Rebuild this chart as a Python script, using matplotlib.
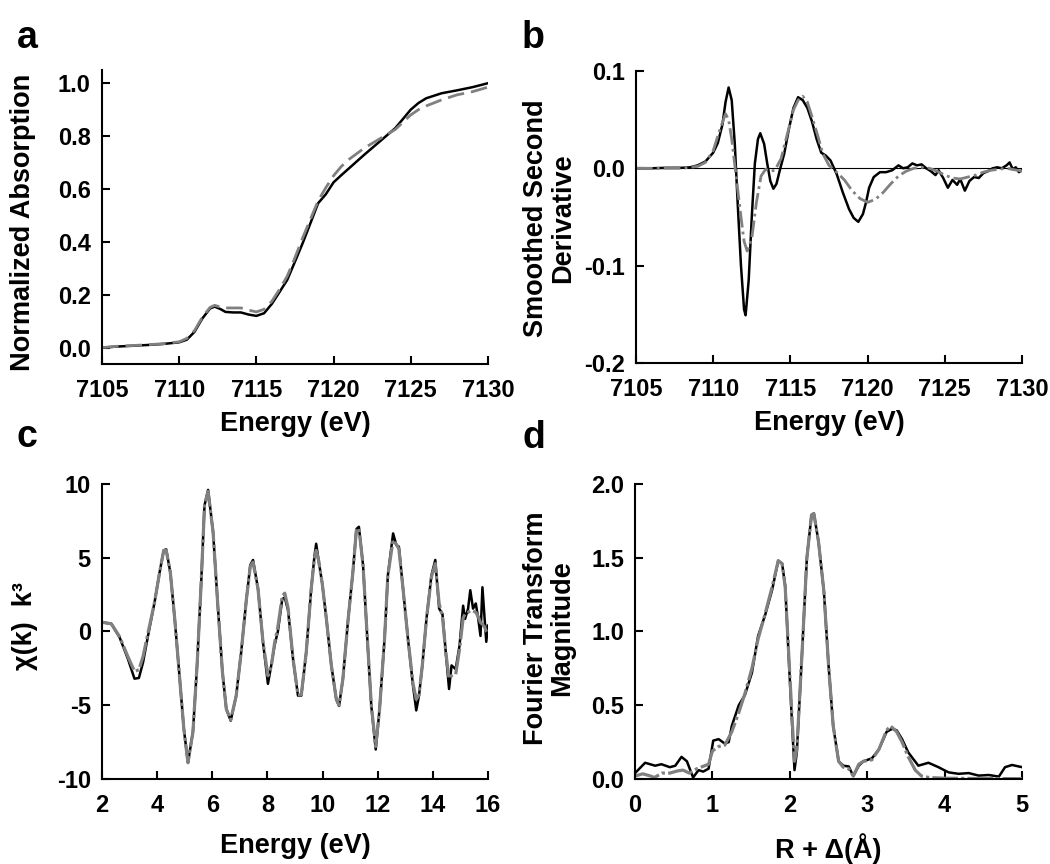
import matplotlib.pyplot as plt
from matplotlib.ticker import FormatStrFormatter

plt.rcParams['font.family'] = ['Liberation Sans', 'DejaVu Sans']
plt.rcParams['font.weight'] = 'bold'
plt.rcParams['axes.unicode_minus'] = False

# ---- panel a: normalized XANES ----
energy_a = [7105, 7106, 7107, 7108, 7109, 7110, 7110.5, 7111, 7111.5, 7112, 7112.3,
            7112.7, 7113, 7113.5, 7114, 7114.5, 7115, 7115.5, 7116, 7116.5, 7117,
            7117.5, 7118, 7118.5, 7119, 7119.5, 7120, 7120.5, 7121, 7122, 7123,
            7124, 7125, 7125.5, 7126, 7127, 7128, 7129, 7130]
absorb_data = [0.0, 0.004, 0.007, 0.01, 0.014, 0.02, 0.03, 0.06, 0.11, 0.148, 0.155,
               0.145, 0.135, 0.133, 0.133, 0.125, 0.12, 0.13, 0.165, 0.21, 0.256,
               0.325, 0.395, 0.47, 0.546, 0.58, 0.625, 0.652, 0.678, 0.73, 0.78,
               0.83, 0.9, 0.925, 0.943, 0.962, 0.973, 0.985, 1.0]
absorb_fit = [0.0, 0.005, 0.008, 0.011, 0.015, 0.022, 0.035, 0.065, 0.115, 0.152, 0.16,
              0.153, 0.15, 0.15, 0.15, 0.142, 0.135, 0.145, 0.175, 0.22, 0.27,
              0.34, 0.415, 0.485, 0.555, 0.605, 0.65, 0.685, 0.712, 0.755, 0.79,
              0.825, 0.88, 0.9, 0.914, 0.937, 0.956, 0.968, 0.985]

# ---- panel b: smoothed second derivative ----
energy_b = [7105, 7106, 7107, 7108, 7108.5, 7109, 7109.5, 7110, 7110.3, 7110.6, 7110.8,
            7111.0, 7111.2, 7111.4, 7111.6, 7111.8, 7112.0, 7112.1, 7112.3, 7112.5,
            7112.7, 7112.9, 7113.05, 7113.3, 7113.5, 7113.7, 7113.9, 7114.1, 7114.3,
            7114.6, 7114.9, 7115.2, 7115.5, 7115.8, 7116.1, 7116.4, 7116.7, 7117.0,
            7117.3, 7117.6, 7118.0, 7118.4, 7118.8, 7119.1, 7119.4, 7119.7, 7119.9,
            7120.1, 7120.4, 7120.8, 7121.2, 7121.6, 7122.0, 7122.3, 7122.6, 7122.9,
            7123.2, 7123.5, 7123.8, 7124.1, 7124.4, 7124.6, 7124.9, 7125.2, 7125.5,
            7125.8, 7126.0, 7126.3, 7126.6, 7126.9, 7127.2, 7127.5, 7127.8, 7128.1,
            7128.4, 7128.7, 7129.0, 7129.2, 7129.4, 7129.6, 7129.8, 7130.0]
deriv_data = [0.0, 0.0, 0.0005, 0.0005, 0.001, 0.003, 0.007, 0.016, 0.026, 0.045, 0.068,
              0.083, 0.07, 0.025, -0.04, -0.1, -0.145, -0.151, -0.115, -0.05,
              0.005, 0.03, 0.036, 0.025, 0.005, -0.013, -0.021, -0.016, -0.003,
              0.015, 0.04, 0.062, 0.073, 0.07, 0.062, 0.048, 0.03, 0.016,
              0.013, 0.008, -0.006, -0.025, -0.042, -0.051, -0.055, -0.047, -0.035,
              -0.02, -0.009, -0.004, -0.004, -0.002, 0.003, 0.0, 0.001, 0.005,
              0.003, 0.004, 0.0, -0.003, -0.007, -0.002, -0.01, -0.02, -0.012,
              -0.017, -0.011, -0.023, -0.013, -0.009, -0.01, -0.005, -0.003, 0.0,
              0.001, 0.0, 0.003, 0.006, -0.001, 0.001, -0.004, -0.002]

energy_b_fit = [7105, 7107, 7108, 7109, 7109.5, 7110, 7110.4, 7110.8, 7111.0, 7111.2,
                7111.5, 7111.8, 7112.0, 7112.2, 7112.5, 7112.8, 7113.1, 7113.4, 7113.7,
                7114.0, 7114.4, 7114.8, 7115.2, 7115.5, 7115.8, 7116.1, 7116.4, 7116.8,
                7117.1, 7117.5, 7118.0, 7118.5, 7119.0, 7119.5, 7120.0, 7120.5, 7121.0,
                7121.5, 7122.0, 7122.5, 7123.0, 7123.5, 7124.0, 7124.5, 7125.0, 7125.5,
                7126.0, 7126.5, 7127.0, 7127.5, 7128.0, 7129.0, 7130.0]
deriv_fit = [0.0, 0.0, 0.0, 0.002, 0.006, 0.018, 0.038, 0.056, 0.05, 0.03,
             -0.01, -0.05, -0.075, -0.085, -0.072, -0.035, -0.008, -0.001, -0.003,
             -0.002, 0.01, 0.035, 0.06, 0.07, 0.074, 0.068, 0.053, 0.032,
             0.015, 0.003, -0.004, -0.012, -0.023, -0.031, -0.035, -0.032, -0.025,
             -0.016, -0.008, -0.003, 0.0, 0.001, 0.0, -0.003, -0.007, -0.01,
             -0.011, -0.009, -0.007, -0.004, -0.002, 0.0, -0.003]

# ---- panel c: k^3-weighted EXAFS ----
k_c = [2.0, 2.34, 2.64, 2.94, 3.18, 3.34, 3.49, 3.67, 3.91, 4.09, 4.24, 4.33, 4.48,
       4.64, 4.82, 4.97, 5.12, 5.3, 5.45, 5.6, 5.72, 5.85, 6.03, 6.21, 6.37, 6.51,
       6.67, 6.87, 7.05, 7.24, 7.38, 7.48, 7.66, 7.84, 8.02, 8.14, 8.26, 8.38, 8.54,
       8.63, 8.75, 8.93, 9.11, 9.23, 9.41, 9.59, 9.71, 9.77, 9.86, 9.99, 10.14, 10.32,
       10.5, 10.6, 10.74, 10.92, 11.1, 11.23, 11.32, 11.47, 11.61, 11.77, 11.93, 12.07,
       12.25, 12.37, 12.56, 12.68, 12.77, 12.92, 13.1, 13.28, 13.4, 13.5, 13.62, 13.77,
       13.95, 14.09, 14.23, 14.35, 14.47, 14.59, 14.68, 14.83, 14.97, 15.1, 15.17,
       15.28, 15.36, 15.46, 15.56, 15.65, 15.73, 15.8, 15.88, 15.94, 16.0]
chi_data = [0.63, 0.52, -0.4, -1.85, -3.2, -3.15, -2.1, -0.3, 2.0, 4.0, 5.5, 5.57, 4.0,
            0.85, -3.2, -6.6, -8.9, -6.8, -2.3, 3.35, 8.55, 9.6, 6.75, 1.55, -2.75, -5.25,
            -6.05, -4.35, -1.4, 2.2, 4.5, 4.85, 2.9, -0.7, -3.55, -2.3, -0.95, 0.0, 2.2,
            2.3, 1.45, -1.85, -4.35, -4.35, -1.4, 2.9, 5.15, 5.95, 4.8, 3.25, 0.85, -2.3,
            -4.6, -5.05, -3.2, 0.65, 4.0, 6.95, 7.1, 4.5, 0.0, -5.05, -8.0, -5.25,
            -0.5, 3.8, 6.65, 5.85, 5.75, 2.9, -0.5, -3.65, -5.35, -4.35, -2.3, 0.85,
            3.8, 4.85, 1.55, 1.2, -1.4, -3.9, -2.3, -2.55, -0.95, 1.75, 0.85,
            1.55, 2.8, 1.55, 1.9, 0.85, -0.3, 3.0, 0.85, -0.7, 0.4]
chi_fit = [0.63, 0.52, -0.35, -1.7, -2.7, -2.6, -1.7, -0.1, 2.0, 4.0, 5.5, 5.5, 4.0,
           0.85, -3.2, -6.6, -8.9, -6.8, -2.3, 3.35, 8.55, 9.5, 6.75, 1.55, -2.75, -5.25,
           -6.0, -4.35, -1.4, 2.2, 4.4, 4.7, 2.9, -0.7, -3.0, -2.4, -0.8, 0.3, 2.4,
           2.6, 1.6, -1.85, -4.3, -4.3, -1.4, 2.9, 5.0, 5.5, 4.8, 3.25, 0.85, -2.3,
           -4.6, -5.0, -3.2, 0.65, 4.0, 6.9, 7.0, 4.5, 0.0, -5.0, -7.8, -5.25,
           -0.5, 3.8, 6.2, 5.9, 5.6, 2.9, -0.5, -3.5, -4.6, -4.3, -2.3, 0.85,
           3.7, 4.6, 1.9, 1.0, -1.4, -3.2, -3.0, -2.9, -1.2, 0.9, 1.2,
           1.3, 1.4, 1.4, 1.3, 1.0, 0.6, 0.5, 0.3, 0.0, -0.2]

# ---- panel d: Fourier transform ----
r_data = [0.01, 0.13, 0.26, 0.34, 0.45, 0.52, 0.6, 0.67, 0.75, 0.82, 0.88, 0.95,
          1.01, 1.08, 1.16, 1.21, 1.25, 1.34, 1.42, 1.51, 1.59, 1.68, 1.77, 1.85,
          1.9, 1.94, 1.98, 2.03, 2.06, 2.09, 2.16, 2.22, 2.28, 2.31, 2.37, 2.44,
          2.5, 2.56, 2.63, 2.69, 2.76, 2.82, 2.89, 2.95, 3.06, 3.15, 3.25, 3.32,
          3.38, 3.45, 3.53, 3.66, 3.79, 3.92, 4.05, 4.18, 4.31, 4.44, 4.57, 4.7,
          4.78, 4.87, 5.0]
ft_data = [0.045, 0.11, 0.09, 0.1, 0.08, 0.09, 0.15, 0.12, 0.01, 0.06, 0.05, 0.07,
           0.26, 0.27, 0.24, 0.25, 0.36, 0.5, 0.57, 0.72, 0.97, 1.11, 1.28, 1.48,
           1.46, 1.31, 0.88, 0.36, 0.06, 0.18, 0.88, 1.5, 1.79, 1.8, 1.61, 1.27,
           0.77, 0.36, 0.12, 0.09, 0.085, 0.02, 0.09, 0.12, 0.14, 0.2, 0.32, 0.34,
           0.33, 0.27, 0.18, 0.09, 0.11, 0.08, 0.045, 0.035, 0.04, 0.023, 0.027, 0.016,
           0.08, 0.095, 0.08]
r_fit = [0.0, 0.1, 0.2, 0.25, 0.35, 0.45, 0.55, 0.62, 0.7, 0.8, 0.9, 0.95, 1.0, 1.08,
         1.16, 1.25, 1.34, 1.42, 1.51, 1.59, 1.68, 1.77, 1.85, 1.9, 1.94, 1.98, 2.03,
         2.06, 2.09, 2.16, 2.22, 2.28, 2.31, 2.37, 2.44, 2.5, 2.56, 2.63, 2.69, 2.76,
         2.82, 2.89, 2.95, 3.06, 3.15, 3.25, 3.3, 3.38, 3.45, 3.53, 3.62, 3.7, 3.8,
         4.0, 4.5, 5.0]
ft_fit = [0.02, 0.035, 0.02, 0.01, 0.04, 0.04, 0.055, 0.06, 0.04, 0.07, 0.09, 0.1, 0.19, 0.22,
          0.23, 0.32, 0.45, 0.58, 0.75, 0.95, 1.12, 1.3, 1.48, 1.46, 1.3, 0.9, 0.4,
          0.12, 0.2, 0.88, 1.5, 1.79, 1.8, 1.61, 1.27, 0.77, 0.36, 0.12, 0.08, 0.07,
          0.02, 0.1, 0.12, 0.13, 0.2, 0.33, 0.36, 0.32, 0.25, 0.15, 0.06, 0.02, 0.01,
          0.005, 0.003, 0.002]

GREY = '#808080'
TICK_SIZE = 17
LABEL_SIZE = 19.5
BLACK_LW = 1.8
GREY_LW = 2.0


def style_axes(ax, xlim, ylim, xticks, yticks, xfmt, yfmt):
    ax.set_xlim(xlim)
    ax.set_ylim(ylim)
    ax.set_xticks(xticks)
    ax.set_yticks(yticks)
    ax.xaxis.set_major_formatter(FormatStrFormatter(xfmt))
    ax.yaxis.set_major_formatter(FormatStrFormatter(yfmt))
    for side in ['top', 'right']:
        ax.spines[side].set_visible(False)
    for side in ['left', 'bottom']:
        ax.spines[side].set_linewidth(1.5)
    ax.tick_params(direction='in', length=6, width=1.5, labelsize=TICK_SIZE)
    ax.tick_params(axis='x', pad=11)
    ax.tick_params(axis='y', pad=8)
    for lab in ax.get_xticklabels() + ax.get_yticklabels():
        lab.set_fontweight('bold')


def y_label(ax, text, x, y):
    ax.text(x, y, text, transform=ax.transAxes, rotation=90, ha='center',
            va='center', multialignment='center', fontsize=LABEL_SIZE,
            fontweight='bold', linespacing=1.05)


fig = plt.figure(figsize=(10.5, 8.64), dpi=100)
ax_a = fig.add_axes([0.0971, 0.5787, 0.3676, 0.3403])
ax_b = fig.add_axes([0.6057, 0.5799, 0.3676, 0.3380])
ax_c = fig.add_axes([0.0971, 0.0984, 0.3676, 0.3414])
ax_d = fig.add_axes([0.6048, 0.0984, 0.3686, 0.3414])

# a
ax_a.plot(energy_a, absorb_data, color='black', lw=BLACK_LW)
ax_a.plot(energy_a, absorb_fit, color=GREY, lw=GREY_LW, dashes=(6, 2.5))
style_axes(ax_a, (7105, 7130), (-0.062, 1.05), range(7105, 7131, 5),
           [0, 0.2, 0.4, 0.6, 0.8, 1.0], '%d', '%.1f')
y_label(ax_a, 'Normalized Absorption', -0.205, 0.48)
ax_a.set_xlabel('Energy (eV)', fontsize=LABEL_SIZE, fontweight='bold')
ax_a.xaxis.set_label_coords(0.5, -0.16)

# b
ax_b.axhline(0, color='black', lw=0.8)
ax_b.plot(energy_b, deriv_data, color='black', lw=BLACK_LW)
ax_b.plot(energy_b_fit, deriv_fit, color=GREY, lw=GREY_LW, dashes=(6, 1.5, 1, 1.5))
style_axes(ax_b, (7105, 7130), (-0.2, 0.1), range(7105, 7131, 5),
           [-0.2, -0.1, 0.0, 0.1], '%d', '%.1f')
y_label(ax_b, 'Smoothed Second\nDerivative', -0.225, 0.497)
ax_b.set_xlabel('Energy (eV)', fontsize=LABEL_SIZE, fontweight='bold')
ax_b.xaxis.set_label_coords(0.5, -0.16)

# c
ax_c.plot(k_c, chi_data, color='black', lw=BLACK_LW)
ax_c.plot(k_c, chi_fit, color=GREY, lw=2.3, dashes=(8, 1, 1, 1))
style_axes(ax_c, (2, 16), (-10, 10), range(2, 17, 2), [-10, -5, 0, 5, 10],
           '%d', '%d')
y_label(ax_c, 'χ(k)  k³', -0.2, 0.52)
ax_c.set_xlabel('Energy (eV)', fontsize=LABEL_SIZE, fontweight='bold')
ax_c.xaxis.set_label_coords(0.5, -0.183)

# d
ax_d.plot(r_data, ft_data, color='black', lw=BLACK_LW)
ax_d.plot(r_fit, ft_fit, color=GREY, lw=2.3, dashes=(8, 1, 1, 1))
style_axes(ax_d, (0, 5), (0, 2.0), range(0, 6), [0, 0.5, 1.0, 1.5, 2.0],
           '%d', '%.1f')
y_label(ax_d, 'Fourier Transform\nMagnitude', -0.222, 0.51)
ax_d.set_xlabel('R + Δ(Å)', fontsize=LABEL_SIZE, fontweight='bold')
ax_d.xaxis.set_label_coords(0.5, -0.183)

# panel letters
for letter, px, py in [('a', 17, 48), ('b', 522, 48), ('c', 17, 447), ('d', 522, 448)]:
    fig.text(px / 1050, 1 - py / 864, letter, fontsize=27, fontweight='bold',
             ha='left', va='baseline')

fig.savefig('out.png', dpi=100)
